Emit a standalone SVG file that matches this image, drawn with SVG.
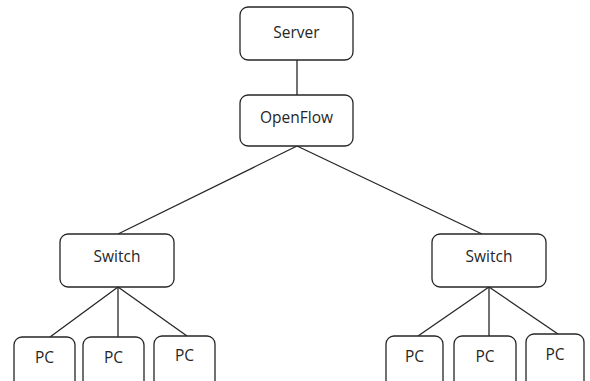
<svg xmlns="http://www.w3.org/2000/svg" width="590" height="381" viewBox="0 0 590 381">
<style>
.n{fill:#fff;stroke:#262626;stroke-width:1.3}
.t{font-family:"Open Sans","Liberation Sans",sans-serif;font-size:15.5px;fill:#262626;text-anchor:middle;dominant-baseline:central}
.c{stroke:#262626;stroke-width:1.3;fill:none}
</style>
<rect width="590" height="381" fill="#fff"/>
<g id="connectors">
<line class="c" x1="297" y1="60" x2="297" y2="95"/>
<line class="c" x1="297" y1="146" x2="118" y2="234"/>
<line class="c" x1="297" y1="146" x2="482" y2="234"/>
<line class="c" x1="118" y1="287" x2="50" y2="337"/>
<line class="c" x1="118" y1="287" x2="118" y2="337"/>
<line class="c" x1="118" y1="287" x2="187" y2="336"/>
<line class="c" x1="489" y1="287" x2="418" y2="336"/>
<line class="c" x1="489" y1="287" x2="489" y2="336"/>
<line class="c" x1="489" y1="287" x2="558" y2="334"/>
</g>
<g id="server"><rect class="n" x="240" y="7" width="113" height="53" rx="8"/><text class="t" x="296.5" y="32">Server</text></g>
<g id="openflow"><rect class="n" x="240" y="95" width="113" height="51" rx="8"/><text class="t" x="296.5" y="117">OpenFlow</text></g>
<g id="switch1"><rect class="n" x="60" y="234" width="114" height="53" rx="8"/><text class="t" x="117" y="256">Switch</text></g>
<g id="switch2"><rect class="n" x="432" y="234" width="114" height="53" rx="8"/><text class="t" x="489" y="256">Switch</text></g>
<g id="pc1"><rect class="n" x="14" y="337" width="61" height="55" rx="8"/><text class="t" x="44.5" y="357">PC</text></g>
<g id="pc2"><rect class="n" x="83" y="337" width="61" height="55" rx="8"/><text class="t" x="113.5" y="357">PC</text></g>
<g id="pc3"><rect class="n" x="154" y="336" width="61" height="55" rx="8"/><text class="t" x="184.5" y="355">PC</text></g>
<g id="pc4"><rect class="n" x="386" y="336" width="57" height="55" rx="8"/><text class="t" x="414.5" y="356">PC</text></g>
<g id="pc5"><rect class="n" x="454" y="336" width="62" height="55" rx="8"/><text class="t" x="485" y="356">PC</text></g>
<g id="pc6"><rect class="n" x="526" y="334" width="58" height="55" rx="8"/><text class="t" x="555" y="354">PC</text></g>
</svg>
